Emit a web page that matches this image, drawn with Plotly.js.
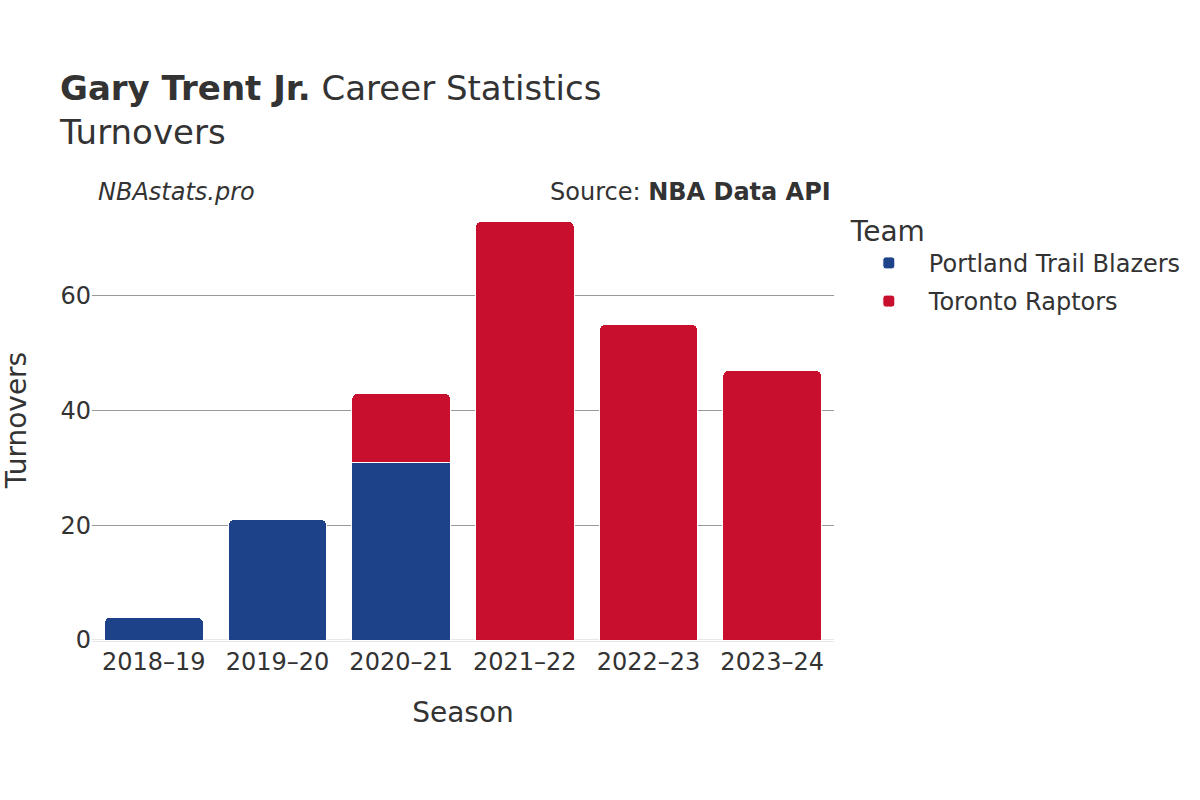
<!DOCTYPE html>
<html>
<head>
<meta charset="utf-8">
<script src="https://cdn.plot.ly/plotly-3.0.1.min.js"></script>
<style>html,body{margin:0;padding:0;background:#fff;}#chart{width:1200px;height:800px;}</style>
</head>
<body>
<div id="chart"></div>
<script>
const seasons = ["2018–19", "2019–20", "2020–21", "2021–22", "2022–23", "2023–24"];
const portlandTurnovers = [4, 21, 31, null, null, null];
const torontoTurnovers = [null, null, 12, 73, 55, 47];
const teamNames = ["Portland Trail Blazers", "Toronto Raptors"];
const teamColors = ["#1d428a", "#c8102e"];

const font = "DejaVu Sans, sans-serif";
const traces = [
  {type: "bar", name: teamNames[0], legendgroup: "g1", x: seasons, y: portlandTurnovers,
   marker: {color: teamColors[0], line: {color: "#ffffff", width: 1}}},
  {type: "bar", name: teamNames[1], legendgroup: "g2", x: seasons, y: torontoTurnovers,
   marker: {color: teamColors[1], line: {color: "#ffffff", width: 1}}}
];
const layout = {
  width: 1200, height: 800,
  barmode: "stack", bargap: 0.2, barcornerradius: 6,
  paper_bgcolor: "#ffffff", plot_bgcolor: "#ffffff",
  font: {family: font, color: "#333333", size: 24},
  margin: {l: 92, r: 366, t: 200, b: 160},
  title: {text: "<b>Gary Trent Jr.</b> Career Statistics<br>Turnovers", x: 0.05, xanchor: "left", y: 0.875, yanchor: "top",
          font: {family: font, size: 34, color: "#333333"}},
  xaxis: {title: {text: "Season", font: {size: 28}, standoff: 27}, tickfont: {size: 24}, showgrid: false, linecolor: "#ffffff"},
  yaxis: {title: {text: "Turnovers", font: {size: 28}, standoff: 25}, tickfont: {size: 24}, range: [0, 76.7],
          gridcolor: "#999999", gridwidth: 1, zeroline: true, zerolinecolor: "#e8e8e8", zerolinewidth: 3, tickvals: [0, 20, 40, 60]},
  legend: {title: {text: "Team", font: {size: 28}}, x: 1.02, xanchor: "left", y: 0.99, yanchor: "top",
           font: {size: 24}, traceorder: "grouped", itemwidth: 70, tracegroupgap: 4},
  annotations: [
    {text: "<i>NBAstats.pro</i>", xref: "paper", yref: "paper", x: 0.005, y: 1.019, xanchor: "left", yanchor: "middle", showarrow: false, font: {size: 24}},
    {text: "Source: <b>NBA Data API</b>", xref: "paper", yref: "paper", x: 0.999, y: 1.019, xanchor: "right", yanchor: "middle", showarrow: false, font: {size: 24}}
  ]
};
Plotly.newPlot("chart", traces, layout, {displayModeBar: false});
</script>
</body>
</html>
